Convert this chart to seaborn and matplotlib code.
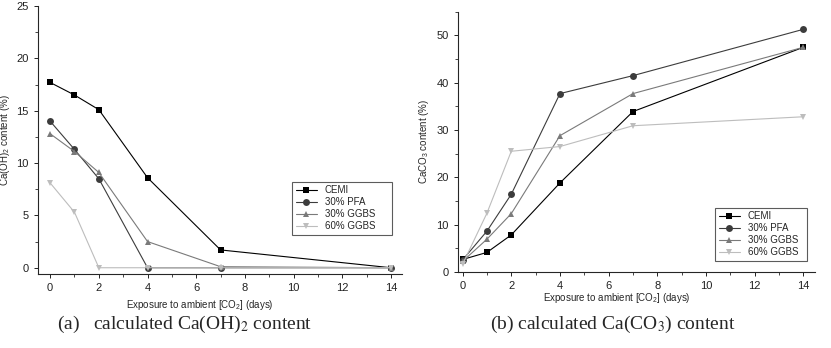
import numpy as np
import pandas as pd
import seaborn as sns
import matplotlib.pyplot as plt
from matplotlib.ticker import MultipleLocator

days = [0, 1, 2, 4, 7, 14]
mixes = ['CEMI', '30% PFA', '30% GGBS', '60% GGBS']

# Ca(OH)2 content (%)
caoh_cemi = [17.7, 16.5, 15.1, 8.6, 1.7, 0.0]
caoh_pfa = [14.0, 11.3, 8.5, 0.0, 0.0, 0.0]
caoh_ggbs30 = [12.8, 11.1, 9.1, 2.5, 0.1, 0.0]
caoh_ggbs60 = [8.1, 5.3, 0.0, 0.0, 0.0, 0.0]

# CaCO3 content (%)
caco_cemi = [2.6, 4.1, 7.8, 18.8, 33.9, 47.5]
caco_pfa = [2.5, 8.6, 16.4, 37.7, 41.5, 51.3]
caco_ggbs30 = [2.2, 6.9, 12.3, 28.8, 37.7, 47.5]
caco_ggbs60 = [1.6, 12.4, 25.5, 26.5, 30.9, 32.8]


def long_frame(series):
    rows = []
    for mix, vals in zip(mixes, series):
        for d, v in zip(days, vals):
            rows.append({'days': d, 'value': v, 'mix': mix})
    return pd.DataFrame(rows)


df_oh = long_frame([caoh_cemi, caoh_pfa, caoh_ggbs30, caoh_ggbs60])
df_co = long_frame([caco_cemi, caco_pfa, caco_ggbs30, caco_ggbs60])

palette = {'CEMI': '#000000', '30% PFA': '#3c3c3c',
           '30% GGBS': '#7a7a7a', '60% GGBS': '#bdbdbd'}
markers = {'CEMI': 's', '30% PFA': 'o', '30% GGBS': '^', '60% GGBS': 'v'}

sns.set_style('ticks')
plt.rcParams['font.family'] = ['Liberation Sans', 'DejaVu Sans']
plt.rcParams['mathtext.fontset'] = 'custom'
plt.rcParams['mathtext.rm'] = 'Liberation Sans'

fig = plt.figure(figsize=(8.31, 3.48), dpi=100)
ax1 = fig.add_axes([0.0457, 0.2126, 0.438, 0.770])
ax2 = fig.add_axes([0.5508, 0.219, 0.430, 0.747])


def draw(ax, data, ylabel, legend_box):
    sns.lineplot(data=data, x='days', y='value', hue='mix', style='mix',
                 palette=palette, markers=markers, dashes=False,
                 markersize=5, linewidth=0.8, markeredgewidth=0,
                 ax=ax)
    ax.set_xlabel('Exposure to ambient [CO$_2$] (days)', fontsize=7)
    ax.set_ylabel(ylabel, fontsize=7)
    ax.xaxis.set_major_locator(MultipleLocator(2))
    ax.xaxis.set_minor_locator(MultipleLocator(1))
    ax.tick_params(axis='both', which='major', labelsize=8, length=3,
                   width=0.7, colors='#222222')
    ax.tick_params(axis='both', which='minor', length=2, width=0.6)
    for s in ['left', 'bottom']:
        ax.spines[s].set_linewidth(0.8)
    leg = ax.legend(loc='lower left', bbox_to_anchor=legend_box,
                    bbox_transform=fig.transFigure, mode='expand',
                    fontsize=7, frameon=True, fancybox=False,
                    handlelength=2.2, borderpad=0.4, labelspacing=0.2)
    leg.get_frame().set_edgecolor('#333333')
    leg.get_frame().set_linewidth(0.8)
    sns.despine(ax=ax)


draw(ax1, df_oh, 'Ca(OH)$_2$ content (%)', (287 / 831, 1 - 240 / 348, 110 / 831, 59 / 348))
ax1.set_xlim(-0.5, 14.45)
ax1.set_ylim(-0.6, 25)
ax1.yaxis.set_major_locator(MultipleLocator(5))
ax1.yaxis.set_minor_locator(MultipleLocator(2.5))
ax1.yaxis.set_label_coords(-0.07, 0.5)
ax1.xaxis.set_label_coords(0.445, -0.09)

draw(ax2, df_co, 'CaCO$_3$ content (%)', (710 / 831, 1 - 266 / 348, 102 / 831, 60 / 348))
ax2.set_xlim(-0.2, 14.48)
ax2.set_ylim(0, 55)
ax2.yaxis.set_major_locator(MultipleLocator(10))
ax2.yaxis.set_minor_locator(MultipleLocator(5))
ax2.yaxis.set_label_coords(-0.075, 0.5)
ax2.xaxis.set_label_coords(0.446, -0.075)

fig.text(185 / 831, 1 - 324 / 348, '(a)   calculated Ca(OH)$_2$ content',
         ha='center', va='center', fontsize=14, family='Liberation Serif',
         math_fontfamily='stix')
fig.text(613 / 831, 1 - 324 / 348, '(b) calculated Ca(CO$_3$) content',
         ha='center', va='center', fontsize=14, family='Liberation Serif',
         math_fontfamily='stix')

fig.savefig('out.png', dpi=100)
